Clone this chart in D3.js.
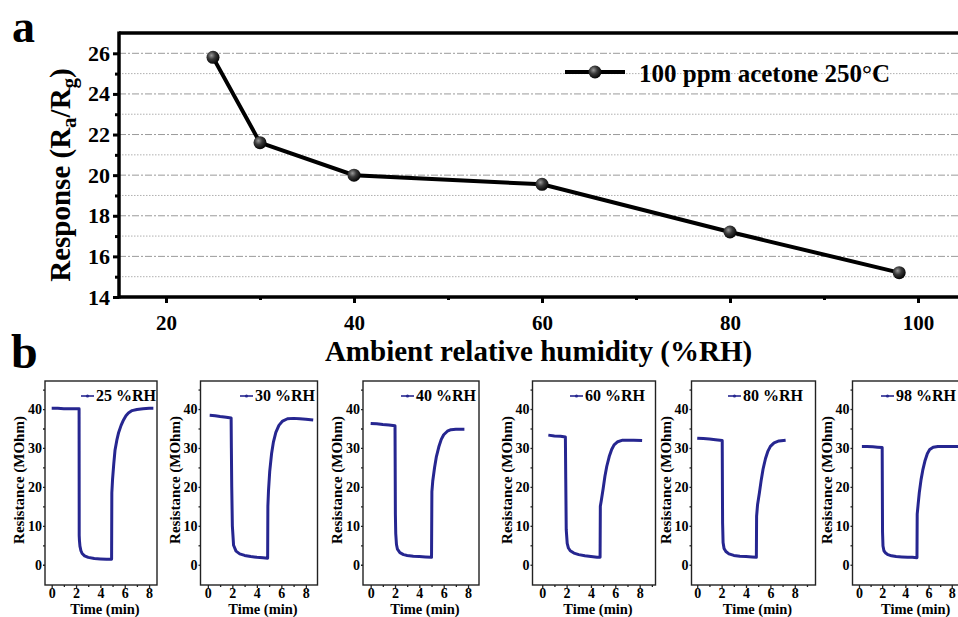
<!DOCTYPE html>
<html>
<head>
<meta charset="utf-8">
<script src="https://cdn.jsdelivr.net/npm/d3@7"></script>
<style>
  body { margin: 0; background: #fff; }
  svg { display: block; }
  text { font-family: "Liberation Serif", "Times New Roman", serif; font-weight: bold; }
</style>
</head>
<body>
<div id="chart"></div>
<script>
// panel a : response vs humidity
const rhLevels = [25, 30, 40, 60, 80, 98];
const responses = [25.8, 21.6, 20.0, 19.55, 17.2, 15.2];
const yTicksTop = [14, 16, 18, 20, 22, 24, 26];
const yMinorTop = [15, 17, 19, 21, 23, 25];
const xTicksTop = [20, 40, 60, 80, 100];
const xMinorTop = [30, 50, 70, 90];

// panel b : resistance transients (time in min, resistance in MOhm)
const panelLabels = ['25 %RH', '30 %RH', '40 %RH', '60 %RH', '80 %RH', '98 %RH'];
const t25 = [0, 0.5, 1, 1.5, 2, 2.25, 2.26, 2.28, 2.32, 2.4, 2.5, 2.7, 3.0, 3.5, 4.0, 4.5, 4.92, 4.94, 5.0, 5.1, 5.2, 5.35, 5.5, 5.7, 5.9, 6.1, 6.3, 6.6, 7.0, 7.5, 8.0, 8.35];
const r25 = [40.2, 40.2, 40.1, 40.1, 40.1, 40.1, 7.5, 6.2, 4.8, 3.6, 2.9, 2.3, 1.9, 1.6, 1.5, 1.4, 1.4, 18.5, 22.0, 26.0, 29.4, 32.0, 34.0, 35.8, 37.2, 38.3, 39.0, 39.6, 39.9, 40.1, 40.2, 40.2];
const t30 = [0.15, 0.6, 1.0, 1.5, 1.9, 1.92, 1.95, 2.0, 2.1, 2.3, 2.6, 3.0, 3.5, 4.0, 4.5, 4.88, 4.9, 4.95, 5.05, 5.2, 5.35, 5.55, 5.8, 6.1, 6.5, 7.0, 7.5, 8.0, 8.6];
const r30 = [38.4, 38.3, 38.1, 37.9, 37.7, 30.0, 20.0, 10.0, 5.0, 3.5, 2.8, 2.4, 2.1, 1.9, 1.8, 1.7, 15.0, 19.0, 24.0, 28.5, 31.5, 34.0, 35.8, 36.9, 37.5, 37.6, 37.5, 37.4, 37.2];
const t40 = [0, 0.5, 1.0, 1.5, 2.0, 2.03, 2.06, 2.12, 2.2, 2.4, 2.7, 3.0, 3.5, 4.0, 4.5, 5.0, 5.03, 5.1, 5.25, 5.4, 5.6, 5.8, 6.0, 6.3, 6.6, 7.0, 7.4, 7.7];
const r40 = [36.3, 36.2, 36.0, 35.9, 35.7, 13.0, 8.0, 5.2, 4.0, 3.1, 2.6, 2.4, 2.2, 2.1, 2.0, 1.9, 18.8, 21.5, 25.0, 27.8, 30.3, 32.2, 33.4, 34.3, 34.7, 34.8, 34.8, 34.8];
const t60 = [0.5, 1.0, 1.5, 1.9, 1.93, 1.97, 2.05, 2.15, 2.3, 2.6, 3.0, 3.5, 4.0, 4.5, 4.75, 4.77, 4.85, 5.0, 5.15, 5.3, 5.5, 5.7, 5.9, 6.2, 6.6, 7.0, 7.5, 8.2];
const r60 = [33.3, 33.1, 33.0, 32.8, 22.0, 9.0, 5.5, 4.3, 3.6, 3.0, 2.6, 2.3, 2.1, 1.9, 1.9, 15.0, 16.5, 19.5, 22.8, 25.3, 27.8, 29.6, 30.8, 31.6, 32.0, 32.0, 32.0, 31.9];
const t80 = [0, 0.5, 1.0, 1.5, 2.05, 2.08, 2.12, 2.2, 2.35, 2.6, 3.0, 3.5, 4.0, 4.5, 4.85, 4.87, 4.95, 5.1, 5.25, 5.4, 5.6, 5.8, 6.0, 6.3, 6.7, 7.25];
const r80 = [32.5, 32.4, 32.3, 32.1, 31.9, 10.8, 5.7, 4.2, 3.4, 2.8, 2.4, 2.2, 2.1, 2.0, 1.9, 12.5, 15.5, 18.5, 21.8, 24.6, 27.3, 29.2, 30.4, 31.3, 31.8, 32.0];
const t98 = [0.25, 0.7, 1.2, 1.6, 2.0, 2.03, 2.07, 2.15, 2.3, 2.5, 2.8, 3.2, 3.7, 4.2, 4.6, 5.0, 5.02, 5.1, 5.2, 5.35, 5.5, 5.7, 5.9, 6.1, 6.4, 6.8, 7.3, 8.0, 8.6];
const r98 = [30.4, 30.4, 30.3, 30.2, 30.1, 8.4, 4.8, 3.6, 3.0, 2.6, 2.3, 2.1, 2.0, 1.9, 1.9, 1.8, 13.0, 15.5, 18.5, 21.8, 24.3, 26.8, 28.6, 29.6, 30.2, 30.4, 30.4, 30.4, 30.4];
const curveTimes = [t25, t30, t40, t60, t80, t98];
const curveRes = [r25, r30, r40, r60, r80, r98];
const smallYTicks = [0, 10, 20, 30, 40];
const smallYMinor = [5, 15, 25, 35, 45];
const smallXTicks = [0, 2, 4, 6, 8];
const smallXMinor = [1, 3, 5, 7, 9];

// layout of the small panels
const panelLeft = [45, 200.5, 363, 532.5, 691.5, 852.5];
const panelRight = [157, 317.5, 479, 655.5, 815.5, 971];
const panelXDomain = [[-0.55, 8.65], [-0.6, 8.95], [-0.63, 8.9], [-0.8, 9.3], [-0.47, 9.7], [-0.56, 9.66]];
const legendEnd = [156, 315, 476, 645, 803, 956];

const W = 958, H = 617;
const svg = d3.select('#chart').append('svg')
    .attr('width', W).attr('height', H);
svg.append('rect').attr('width', W).attr('height', H).attr('fill', '#fff');

// ---------- panel a ----------
const x = d3.scaleLinear().domain([15, 105]).range([119, 965]);
const y = d3.scaleLinear().domain([14, 27]).range([297, 33]);

// grid lines
svg.append('g').selectAll('line').data(yTicksTop.filter(d => d > 14)).enter()
    .append('line')
    .attr('x1', x(15)).attr('x2', W)
    .attr('y1', d => y(d)).attr('y2', d => y(d))
    .attr('stroke', '#9a9a9a').attr('stroke-width', 1)
    .attr('stroke-dasharray', '7,2,2,2');
svg.append('g').selectAll('line').data(yMinorTop).enter()
    .append('line')
    .attr('x1', x(15)).attr('x2', W)
    .attr('y1', d => y(d)).attr('y2', d => y(d))
    .attr('stroke', '#b0b0b0').attr('stroke-width', 1)
    .attr('stroke-dasharray', '1.5,1.5');

function styleAxis(g, size) {
    g.attr('font-size', size).attr('font-family', null);
    g.select('.domain').remove();
    g.selectAll('text').attr('fill', '#000');
}

svg.append('g')
    .attr('transform', `translate(${x(15)},0)`)
    .call(d3.axisLeft(y).tickValues(yTicksTop).tickSize(6).tickPadding(3).tickFormat(d3.format('d')))
    .call(g => styleAxis(g, 22))
    .call(g => g.selectAll('line').attr('stroke', '#000').attr('stroke-width', 3));
svg.append('g')
    .attr('transform', `translate(${x(15)},0)`)
    .call(d3.axisLeft(y).tickValues(yMinorTop).tickSize(4).tickFormat(''))
    .call(g => styleAxis(g, 22))
    .call(g => g.selectAll('line').attr('stroke', '#000').attr('stroke-width', 3));

svg.append('g')
    .attr('transform', `translate(0,${y(14)})`)
    .call(d3.axisBottom(x).tickValues(xTicksTop).tickSize(6).tickPadding(12).tickFormat(d3.format('d')))
    .call(g => styleAxis(g, 21))
    .call(g => g.selectAll('line').attr('stroke', '#000').attr('stroke-width', 3));
svg.append('g')
    .attr('transform', `translate(0,${y(14)})`)
    .call(d3.axisBottom(x).tickValues(xMinorTop).tickSize(3).tickFormat(''))
    .call(g => styleAxis(g, 21))
    .call(g => g.selectAll('line').attr('stroke', '#000').attr('stroke-width', 3));

// frame
const frame = svg.append('g').attr('stroke', '#000').attr('stroke-width', 3.5);
frame.append('line').attr('x1', x(15)).attr('x2', x(15)).attr('y1', y(27) - 1.5).attr('y2', y(14) + 1.5);
frame.append('line').attr('x1', x(15)).attr('x2', W).attr('y1', y(14)).attr('y2', y(14));
frame.append('line').attr('x1', x(15)).attr('x2', W).attr('y1', y(27)).attr('y2', y(27));

// sphere gradient
const defs = svg.append('defs');
const grad = defs.append('radialGradient').attr('id', 'ball')
    .attr('cx', '38%').attr('cy', '35%').attr('r', '65%');
grad.append('stop').attr('offset', '0%').attr('stop-color', '#9a9a9a');
grad.append('stop').attr('offset', '45%').attr('stop-color', '#3a3a3a');
grad.append('stop').attr('offset', '100%').attr('stop-color', '#050505');

const pts = rhLevels.map((d, i) => ({ rh: d, v: responses[i] }));
svg.append('path')
    .datum(pts)
    .attr('fill', 'none')
    .attr('stroke', '#000')
    .attr('stroke-width', 4)
    .attr('d', d3.line().x(d => x(d.rh)).y(d => y(d.v)));
svg.selectAll('circle.pt').data(pts).enter()
    .append('circle')
    .attr('class', 'pt')
    .attr('cx', d => x(d.rh)).attr('cy', d => y(d.v))
    .attr('r', 6.5)
    .attr('fill', 'url(#ball)');

// legend
svg.append('line').attr('x1', 565).attr('x2', 625).attr('y1', 72).attr('y2', 72)
    .attr('stroke', '#000').attr('stroke-width', 4);
svg.append('circle').attr('cx', 595).attr('cy', 72).attr('r', 6.5).attr('fill', 'url(#ball)');
svg.append('text').attr('x', 639).attr('y', 82).attr('font-size', 25)
    .text('100 ppm acetone 250\u00B0C');

// axis titles
svg.append('text')
    .attr('x', (x(15) + 958) / 2).attr('y', 360.5)
    .attr('text-anchor', 'middle').attr('font-size', 29)
    .text('Ambient relative humidity (%RH)');
const yt = svg.append('text')
    .attr('transform', 'translate(70,175) rotate(-90)')
    .attr('text-anchor', 'middle').attr('font-size', 29);
yt.append('tspan').text('Response (R');
yt.append('tspan').attr('font-size', 21).attr('dy', 6).text('a');
yt.append('tspan').attr('dy', -6).text('/R');
yt.append('tspan').attr('font-size', 21).attr('dy', 6).text('g');
yt.append('tspan').attr('dy', -6).text(')');

// panel letters
svg.append('text').attr('x', 12).attr('y', 42).attr('font-size', 46).text('a');
svg.append('text').attr('x', 11).attr('y', 368).attr('font-size', 48).text('b');

// ---------- panel b ----------
const navy = '#262690';
const ys = d3.scaleLinear().domain([-5.2, 47.2]).range([585, 381]);

panelLabels.forEach((label, i) => {
    const xs = d3.scaleLinear().domain(panelXDomain[i]).range([panelLeft[i], panelRight[i]]);
    const g = svg.append('g');

    g.append('g')
        .attr('transform', `translate(${panelLeft[i]},0)`)
        .call(d3.axisLeft(ys).tickValues(smallYTicks).tickSize(2).tickPadding(1))
        .call(a => styleAxis(a, 14))
        .call(a => a.selectAll('line').attr('stroke', '#222').attr('stroke-width', 1.3));
    g.append('g')
        .attr('transform', `translate(${panelLeft[i]},0)`)
        .call(d3.axisLeft(ys).tickValues(smallYMinor).tickSize(2).tickFormat(''))
        .call(a => styleAxis(a, 14))
        .call(a => a.selectAll('line').attr('stroke', '#222').attr('stroke-width', 1.3));
    g.append('g')
        .attr('transform', `translate(0,${ys(-5.2)})`)
        .call(d3.axisBottom(xs).tickValues(smallXTicks).tickSize(3).tickPadding(0))
        .call(a => styleAxis(a, 14))
        .call(a => a.selectAll('line').attr('stroke', '#222').attr('stroke-width', 1.3))
        .call(a => a.selectAll('text').attr('dy', null).attr('y', 12.6));
    g.append('g')
        .attr('transform', `translate(0,${ys(-5.2)})`)
        .call(d3.axisBottom(xs).tickValues(smallXMinor.filter(d => d < panelXDomain[i][1])).tickSize(2).tickFormat(''))
        .call(a => styleAxis(a, 14))
        .call(a => a.selectAll('line').attr('stroke', '#222').attr('stroke-width', 1.3));

    g.append('rect')
        .attr('x', panelLeft[i]).attr('y', ys(47.2))
        .attr('width', panelRight[i] - panelLeft[i])
        .attr('height', ys(-5.2) - ys(47.2))
        .attr('fill', 'none').attr('stroke', '#222').attr('stroke-width', 1.4);

    const data = curveTimes[i].map((t, k) => ({ t: t, r: curveRes[i][k] }));
    g.append('path')
        .datum(data)
        .attr('fill', 'none')
        .attr('stroke', navy)
        .attr('stroke-width', 3)
        .attr('stroke-linejoin', 'round')
        .attr('d', d3.line().x(d => xs(d.t)).y(d => ys(d.r)));

    // legend
    const lt = g.append('text')
        .attr('x', legendEnd[i]).attr('y', 401)
        .attr('text-anchor', 'end').attr('font-size', 16)
        .text(label);
    const x0 = legendEnd[i] - lt.node().getComputedTextLength() - 2;
    g.append('line').attr('x1', x0 - 13).attr('x2', x0).attr('y1', 396).attr('y2', 396)
        .attr('stroke', navy).attr('stroke-width', 1.6);
    g.append('circle').attr('cx', x0 - 6.5).attr('cy', 396).attr('r', 1.6).attr('fill', navy);

    // titles
    g.append('text')
        .attr('x', (panelLeft[i] + panelRight[i]) / 2 + 4).attr('y', 613.8)
        .attr('text-anchor', 'middle').attr('font-size', 14.5)
        .text('Time (min)');
    g.append('text')
        .attr('transform', `translate(${panelLeft[i] - 21},480) rotate(-90)`)
        .attr('text-anchor', 'middle').attr('font-size', 15)
        .text('Resistance (MOhm)');
});
</script>
</body>
</html>
